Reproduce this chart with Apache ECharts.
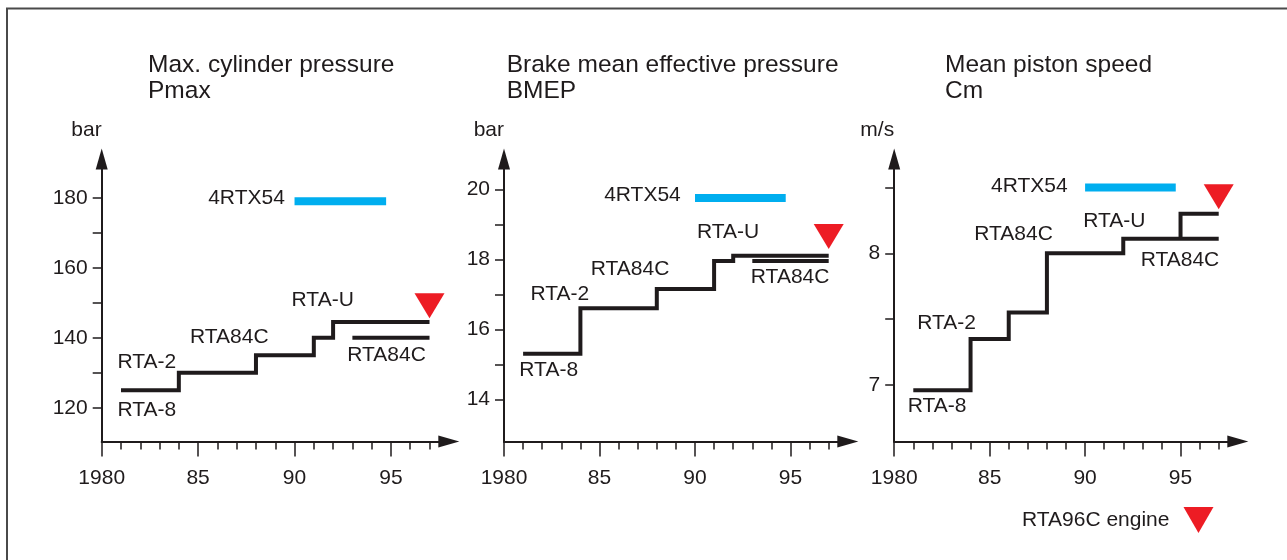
<!DOCTYPE html>
<html>
<head>
<meta charset="utf-8">
<script src="https://cdn.jsdelivr.net/npm/echarts@6/dist/echarts.min.js"></script>
<style>
html,body{margin:0;padding:0;background:#ffffff;}
#chart{width:1287px;height:560px;}
</style>
</head>
<body>
<div id="chart"></div>
<script>
// ---------- shared axis data ----------
const xTickYears = [1980,1981,1982,1983,1984,1985,1986,1987,1988,1989,1990,1991,1992,1993,1994,1995,1996,1997];
const xLabelYears = [1980,1985,1990,1995];

// ---------- Panel 1: Max. cylinder pressure (bar) ----------
const pmaxYears = [1981,1984,1988,1991,1992,1997];
const pmaxValues = [125,130,135,140,144.5,144.5];
const pmaxRta84cYears = [1993,1997];
const pmaxRta84cValues = [140,140];
const pmax4rtxYears = [1990,1994.75];
const pmax4rtxValues = [179,179];
const pmaxRta96c = [1997,149.1];
const pmaxTicks = [120,130,140,150,160,170,180];
const pmaxTickLabels = [120,140,160,180];
const pmaxNotes = [
  ['4RTX54',1987.51,179.9],
  ['RTA-U',1991.46,150.6],
  ['RTA84C',1986.62,140.1],
  ['RTA-2',1982.34,133.1],
  ['RTA-8',1982.34,119.3],
  ['RTA84C',1994.77,135.06]
];

// ---------- Panel 2: BMEP (bar) ----------
const bmepYears = [1981,1984,1988,1991,1992,1997];
const bmepValues = [15.3,16.6,17.15,17.95,18.1,18.1];
const bmepRta84cYears = [1993,1997];
const bmepRta84cValues = [17.95,17.95];
const bmep4rtxYears = [1990,1994.75];
const bmep4rtxValues = [19.75,19.75];
const bmepRta96c = [1997,18.65];
const bmepTicks = [14,15,16,17,18,19,20];
const bmepTickLabels = [14,16,18,20];
const bmepNotes = [
  ['4RTX54',1987.25,19.84],
  ['RTA-U',1991.73,18.78],
  ['RTA84C',1986.6,17.71],
  ['RTA-2',1982.92,17.0],
  ['RTA-8',1982.34,14.83],
  ['RTA84C',1994.98,17.49]
];

// ---------- Panel 3: Mean piston speed (m/s) ----------
const cmYears = [1981,1984,1986,1988,1992,1997];
const cmValues = [6.96,7.35,7.55,8.0,8.11,8.11];
const cmRtaUYears = [1995,1995,1997];
const cmRtaUValues = [8.11,8.30,8.30];
const cm4rtxYears = [1990,1994.75];
const cm4rtxValues = [8.5,8.5];
const cmRta96c = [1997,8.43];
const cmTicks = [7,7.5,8,8.5];
const cmTickLabels = [7,8];
const cmNotes = [
  ['4RTX54',1987.08,8.506],
  ['RTA-U',1991.53,8.24],
  ['RTA84C',1986.25,8.147],
  ['RTA-2',1982.74,7.473],
  ['RTA-8',1982.25,6.84],
  ['RTA84C',1994.97,7.949]
];

// ---------- styling / layout ----------
const INK = '#1f1b1c';
const BLUE = '#00aeef';
const RED = '#ed1c24';
const FONT = "'Liberation Sans', Arial, Helvetica, sans-serif";
const zip = (a, b) => a.map((v, i) => [v, b[i]]);

const panels = [
  { grid:{left:101.7, width:347.1}, yMin:110.35, yMax:191.06, unit:'bar',
    title:'Max. cylinder pressure\nPmax', titleLeft:148,
    main:zip(pmaxYears,pmaxValues), extra:zip(pmaxRta84cYears,pmaxRta84cValues),
    blue:zip(pmax4rtxYears,pmax4rtxValues), tri:pmaxRta96c,
    ticks:pmaxTicks, tickLabels:pmaxTickLabels, notes:pmaxNotes },
  { grid:{left:504, width:343.8}, yMin:12.795, yMax:20.866, unit:'bar',
    title:'Brake mean effective pressure\nBMEP', titleLeft:506.7,
    main:zip(bmepYears,bmepValues), extra:zip(bmepRta84cYears,bmepRta84cValues),
    blue:zip(bmep4rtxYears,bmep4rtxValues), tri:bmepRta96c,
    ticks:bmepTicks, tickLabels:bmepTickLabels, notes:bmepNotes },
  { grid:{left:894.2, width:343.6}, yMin:6.571, yMax:8.716, unit:'m/s',
    title:'Mean piston speed\nCm', titleLeft:945,
    main:zip(cmYears,cmValues), extra:zip(cmRtaUYears,cmRtaUValues),
    blue:zip(cm4rtxYears,cm4rtxValues), tri:cmRta96c,
    ticks:cmTicks, tickLabels:cmTickLabels, notes:cmNotes }
];

const option = {
  animation:false,
  backgroundColor:'#ffffff',
  textStyle:{fontFamily:FONT},
  title:[], grid:[], xAxis:[], yAxis:[], series:[],
  legend:{
    data:['RTA96C engine'], left:1022, top:507, align:'right',
    icon:'path://M0,0 L30,0 L15,26 Z',
    itemWidth:30, itemHeight:26, selectedMode:false, padding:0,
    itemStyle:{color:RED, opacity:1},
    textStyle:{fontSize:21, color:INK, fontFamily:FONT, padding:[4,9,0,0]}
  },
  graphic:[
    {type:'line', shape:{x1:6, y1:8.5, x2:1287, y2:8.5}, style:{stroke:'#4a4a4a', lineWidth:2}},
    {type:'line', shape:{x1:7, y1:8, x2:7, y2:560}, style:{stroke:'#4a4a4a', lineWidth:2}}
  ]
};

const lineBase = {type:'line', symbol:'none', silent:true,
  lineStyle:{color:INK, width:4, cap:'butt', join:'miter'}};

panels.forEach((p, i) => {
  option.title.push({
    text:p.title, left:p.titleLeft, top:52, padding:0,
    textStyle:{fontSize:24.5, lineHeight:26, fontWeight:'normal', color:INK, fontFamily:FONT}
  });
  option.grid.push({left:p.grid.left, width:p.grid.width, top:159, bottom:118.5, containLabel:false});
  const axisLine = {show:true, onZero:false, lineStyle:{color:INK, width:2},
    symbol:['none','triangle'], symbolSize:[12,21]};
  option.xAxis.push({
    type:'value', gridIndex:i, position:'bottom', min:1980, max:1998,
    axisLine:axisLine,
    axisTick:{show:true, customValues:xTickYears, length:8, lineStyle:{color:INK, width:1.5}},
    axisLabel:{show:false}, splitLine:{show:false}
  });
  option.xAxis.push({
    type:'value', gridIndex:i, position:'bottom', min:1980, max:1998,
    axisLine:{show:false, onZero:false},
    axisTick:{show:true, customValues:xLabelYears, length:15, lineStyle:{color:INK, width:1.5}},
    axisLabel:{show:true, customValues:xLabelYears, margin:26, fontSize:21, color:INK, fontFamily:FONT,
      formatter:v => v === 1980 ? '1980' : String(v - 1900)},
    splitLine:{show:false}
  });
  option.yAxis.push({
    type:'value', gridIndex:i, position:'left', min:p.yMin, max:p.yMax,
    name:p.unit, nameLocation:'end', nameGap:29,
    nameTextStyle:{fontSize:21, color:INK, align:'right', verticalAlign:'middle', fontFamily:FONT},
    axisLine:axisLine,
    axisTick:{show:true, customValues:p.ticks, length:9, lineStyle:{color:INK, width:1.5}},
    axisLabel:{show:true, customValues:p.tickLabels, margin:14, fontSize:21, color:INK, fontFamily:FONT},
    splitLine:{show:false}
  });
  const xi = i * 2;
  option.series.push(Object.assign({}, lineBase, {xAxisIndex:xi, yAxisIndex:i, step:'end', data:p.main, z:3}));
  option.series.push(Object.assign({}, lineBase, {xAxisIndex:xi, yAxisIndex:i, data:p.extra, z:3}));
  option.series.push({type:'line', symbol:'none', silent:true, xAxisIndex:xi, yAxisIndex:i, data:p.blue, z:3,
    lineStyle:{color:BLUE, width:8, cap:'butt'}});
  option.series.push({type:'scatter', name:'RTA96C engine', xAxisIndex:xi, yAxisIndex:i, data:[p.tri], z:4,
    symbol:'triangle', symbolRotate:180, symbolSize:[30,25], itemStyle:{color:RED, opacity:1}, silent:true});
  option.series.push({type:'scatter', xAxisIndex:xi, yAxisIndex:i, silent:true, z:5,
    symbolSize:1, itemStyle:{color:'rgba(255,255,255,0)', opacity:1},
    data:p.notes.map(n => ({name:n[0], value:[n[1], n[2]]})),
    label:{show:true, position:'inside', formatter:q => q.name, fontSize:21, color:INK, opacity:1,
      fontFamily:FONT, align:'center', verticalAlign:'middle', textBorderWidth:0}});
});

const chart = echarts.init(document.getElementById('chart'), null, {renderer:'canvas'});
chart.setOption(option);
</script>
</body>
</html>
